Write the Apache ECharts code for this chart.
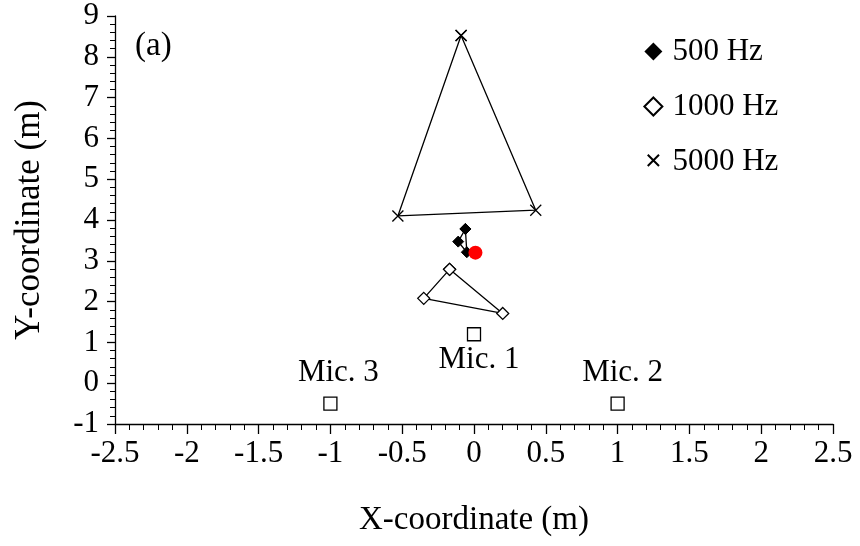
<!DOCTYPE html>
<html>
<head>
<meta charset="utf-8">
<script src="https://cdn.jsdelivr.net/npm/echarts@6/dist/echarts.min.js"></script>
<style>
  html, body { margin: 0; padding: 0; background: #fff; }
  #main { width: 860px; height: 546px; }
</style>
</head>
<body>
<div id="main"></div>
<script>
// source positions for each frequency (x, y in metres)
var hz500 = [[-0.06, 3.78], [-0.11, 3.47], [-0.05, 3.21]];
var hz1000 = [[-0.17, 2.79], [-0.35, 2.08], [0.20, 1.71]];
var hz5000 = [[-0.09, 8.52], [-0.53, 4.10], [0.43, 4.24]];
var realSource = [[0.01, 3.20]];
var mics = [[0, 1.2, 'Mic. 1'], [1, -0.5, 'Mic. 2'], [-1, -0.5, 'Mic. 3']];
var xTicks = [-2.5, 2.5, 0.5];
var yTicks = [-1, 9, 1];

var font = 'Liberation Serif';
var crossPath = 'path://M0,0L10,10M10,0L0,10';
// same cross, padded so the legend icon comes out smaller (like a letter x)
var crossIcon = 'path://M-2,-2M12,14M0,0L10,10M10,0L0,10';

function closeLoop(pts) {
  return pts.concat([pts[0]]);
}

var dom = document.getElementById('main');
var myChart = echarts.init(dom);

var option = {
  animation: false,
  textStyle: { fontFamily: font, color: '#000' },
  grid: { left: 115, right: 27, top: 16, bottom: 122 },
  legend: {
    orient: 'vertical',
    left: 638,
    top: 31,
    itemWidth: 18,
    itemHeight: 18,
    itemGap: 24,
    textStyle: { fontFamily: font, fontSize: 31, color: '#000', padding: [0, 0, 0, 5] },
    data: [
      { name: '500 Hz', icon: 'diamond' },
      { name: '1000 Hz', icon: 'diamond' },
      { name: '5000 Hz', icon: crossIcon }
    ]
  },
  graphic: [{
    type: 'text',
    left: 135,
    top: 30,
    style: { text: '(a)', font: '33px "Liberation Serif"', fill: '#000' }
  }],
  xAxis: {
    type: 'value',
    min: xTicks[0], max: xTicks[1], interval: xTicks[2],
    name: 'X-coordinate (m)',
    nameLocation: 'middle',
    nameGap: 80,
    nameTextStyle: { fontFamily: font, fontSize: 33, color: '#000' },
    axisLine: { onZero: false, lineStyle: { color: '#000', width: 1.3 } },
    axisTick: { length: 10, lineStyle: { color: '#000', width: 1.3 } },
    minorTick: { show: true, splitNumber: 5, length: 6, lineStyle: { color: '#000', width: 1 } },
    axisLabel: { fontFamily: font, fontSize: 31, color: '#000', margin: 14 },
    splitLine: { show: false }
  },
  yAxis: {
    type: 'value',
    min: yTicks[0], max: yTicks[1], interval: yTicks[2],
    name: 'Y-coordinate (m)',
    nameLocation: 'middle',
    nameGap: 68,
    nameTextStyle: { fontFamily: font, fontSize: 35, color: '#000' },
    axisLine: { onZero: false, lineStyle: { color: '#000', width: 1.3 } },
    axisTick: { length: 8, lineStyle: { color: '#000', width: 1.3 } },
    minorTick: { show: true, splitNumber: 5, length: 5, lineStyle: { color: '#000', width: 1 } },
    axisLabel: { fontFamily: font, fontSize: 31, color: '#000', margin: 16 },
    splitLine: { show: false }
  },
  series: [
    {
      name: '5000 Hz',
      type: 'line',
      data: closeLoop(hz5000),
      symbol: crossPath,
      symbolSize: 11,
      showAllSymbol: true,
      lineStyle: { color: '#000', width: 1.3 },
      itemStyle: { color: 'none', borderColor: '#000', borderWidth: 1.3 }
    },
    {
      name: '1000 Hz',
      type: 'line',
      data: closeLoop(hz1000),
      symbol: 'diamond',
      symbolSize: 12,
      lineStyle: { color: '#000', width: 1.3 },
      itemStyle: { color: '#fff', borderColor: '#000', borderWidth: 1.3 }
    },
    {
      name: '500 Hz',
      type: 'line',
      data: closeLoop(hz500),
      symbol: 'diamond',
      symbolSize: 11,
      lineStyle: { color: '#000', width: 1.3 },
      itemStyle: { color: '#000', borderColor: '#000' }
    },
    {
      name: 'source',
      type: 'scatter',
      data: realSource,
      symbol: 'circle',
      symbolSize: 14,
      itemStyle: { color: '#ff0000', opacity: 1 },
      z: 5
    },
    {
      name: 'mics',
      type: 'scatter',
      symbol: 'rect',
      symbolSize: 13,
      itemStyle: { color: '#fff', borderColor: '#000', borderWidth: 1.3, opacity: 1 },
      data: mics.map(function (m) {
        var below = m[2] === 'Mic. 1';
        return {
          value: [m[0], m[1]],
          label: {
            show: true,
            formatter: m[2],
            position: below ? 'bottom' : 'top',
            distance: below ? 3 : 8,
            offset: m[2] === 'Mic. 3' ? [8, 0] : [5, 0],
            fontFamily: font,
            fontSize: 31,
            color: '#000'
          }
        };
      })
    }
  ]
};

myChart.setOption(option, true);
</script>
</body>
</html>
